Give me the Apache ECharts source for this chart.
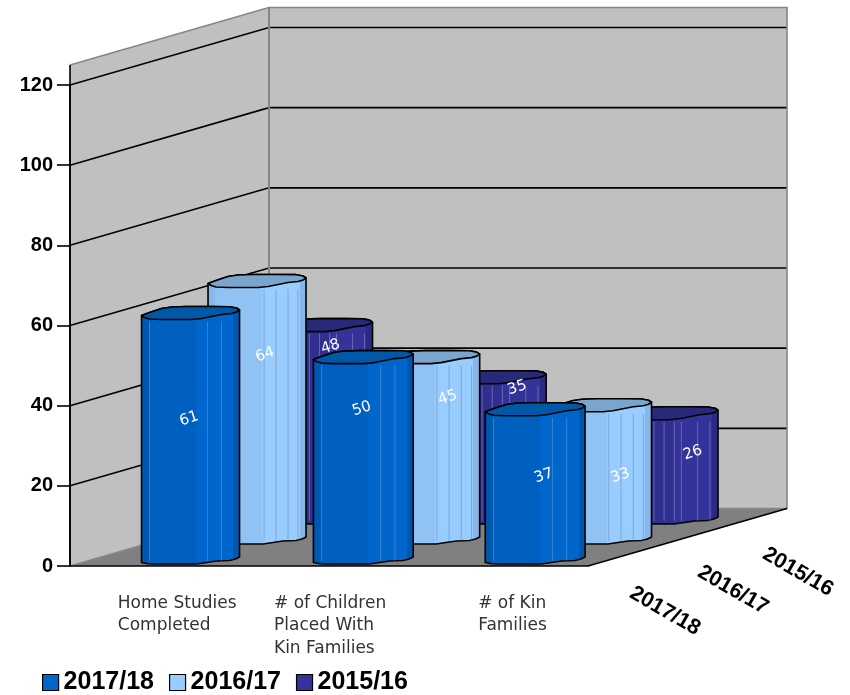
<!DOCTYPE html>
<html>
<head>
<meta charset="utf-8">
<style>html,body{margin:0;padding:0;background:#fff}#c{width:850px;height:695px}</style>
<script src="https://cdn.jsdelivr.net/npm/echarts@6/dist/echarts.min.js"></script>
</head>
<body>
<div id="c"></div>
<script>
var categories = ['Home Studies\nCompleted', '# of Children\nPlaced With\nKin Families', '# of Kin\nFamilies'];
var seriesNames = ['2017/18', '2016/17', '2015/16'];
var values201718 = [61, 50, 37];
var values201617 = [64, 45, 33];
var values201516 = [48, 35, 26];
var yTicks = { min: 0, max: 120, step: 20 };

// layout constants for the hand-projected 3-D box
var DEPTH = { dx: 199, dy: -57.5 };
var ROW = { dx: 66.5, dy: -20, cx: 34.2, base: -2, catSkew: -0.8 };
var BAR_W = 98;
var BAR_STRETCH = [1, 1.018, 1.018];
var WALL_TOP = 125;
var LABEL_NUDGE = {
  0: [[-1.5, 23], [-0.5, 55], [9.6, 14]],
  1: [[8, 61], [18.8, 56], [19.6, 2]],
  2: [[7, 81], [21.8, 66], [25.6, 19]]
};
var STYLE = [
  { color: '#0066CC', dark: '#0057AE', mid: '#0060C0', top: '#0059A8', line: 'rgba(120,170,230,0.55)', lines: [8, 66, 80] },
  { color: '#99CCFF', dark: '#88B6E6', mid: '#90C2F3', top: '#7AA5CC', line: 'rgba(90,120,160,0.55)', lines: [56, 68, 80, 90] },
  { color: '#333399', dark: '#2A2A85', mid: '#2F2F90', top: '#29297A', line: 'rgba(160,160,220,0.6)', lines: [23, 35, 45, 55, 62, 78, 90] }
];
var FRONT_TOP = [[0, -4], [3, -2], [8, -0.5], [20, 0], [50, 0], [60, -1], [70, -3], [80, -5], [90, -6], [95, -7.5], [98, -9.5]];
var BACK_TOP = [[95, -11.5], [88, -12.8], [70, -13], [45, -13], [30, -12.5], [20, -11], [8, -7]];
var FRONT_BOTTOM = [[0, -1.5], [6, -0.3], [12, 0], [55, 0], [65, -1.5], [75, -3], [88, -3.5], [94, -5], [98, -7]];

function barRenderer(row) {
  var st = STYLE[row];
  return function (params, api) {
    var idx = api.value(0), val = api.value(1);
    var base = api.coord([idx, 0]);
    var top = api.coord([idx, val]);
    var left = base[0] + ROW.cx + idx * ROW.catSkew + row * ROW.dx - BAR_W / 2;
    var by = base[1] + ROW.base + row * ROW.dy;
    var ty = top[1] + ROW.base + row * ROW.dy;
    var k = BAR_STRETCH[idx];
    function at(p, y) { return [left + p[0] * k, y + p[1]]; }
    var body = [at(FRONT_TOP[0], ty)];
    BACK_TOP.slice().reverse().forEach(function (p) { body.push(at(p, ty)); });
    body.push(at(FRONT_TOP[FRONT_TOP.length - 1], ty));
    FRONT_BOTTOM.slice().reverse().forEach(function (p) { body.push(at(p, by)); });
    var topFace = FRONT_TOP.map(function (p) { return at(p, ty); })
      .concat(BACK_TOP.map(function (p) { return at(p, ty); }));
    var grad = new echarts.graphic.LinearGradient(0, 0, 1, 0, [
      { offset: 0, color: st.dark }, { offset: 0.08, color: st.dark },
      { offset: 0.08, color: st.mid }, { offset: 0.55, color: st.mid },
      { offset: 0.55, color: st.color }, { offset: 0.93, color: st.color },
      { offset: 0.93, color: st.dark }, { offset: 1, color: st.dark }
    ]);
    var kids = [{
      type: 'polygon', shape: { points: body },
      style: { fill: grad, stroke: '#000', lineWidth: 1.6, lineJoin: 'round' }
    }];
    st.lines.forEach(function (x) {
      kids.push({
        type: 'line',
        shape: { x1: left + x * k, y1: ty + 2, x2: left + x * k, y2: by - 3 },
        style: { stroke: st.line, lineWidth: 0.8 }
      });
    });
    kids.push({
      type: 'polygon', shape: { points: topFace },
      style: { fill: st.top, stroke: '#000', lineWidth: 1.6, lineJoin: 'round' }
    });
    var n = LABEL_NUDGE[row][idx];
    kids.push({
      type: 'text', x: left + BAR_W / 2 + n[0], y: (by + ty) / 2 - n[1],
      rotation: 18 * Math.PI / 180,
      style: {
        text: String(val), fill: '#fff', font: '15px "DejaVu Sans"',
        align: 'center', verticalAlign: 'middle'
      },
      z2: 10
    });
    return { type: 'group', children: kids };
  };
}

function wallRenderer(params, api) {
  var cs = params.coordSys;
  var L = cs.x, R = cs.x + cs.width;
  var y0 = api.coord([0, 0])[1], yT = api.coord([0, WALL_TOP])[1];
  var d = DEPTH;
  var gray = '#868686';
  var kids = [
    { type: 'polygon', shape: { points: [[L, y0], [L + d.dx, y0 + d.dy], [L + d.dx, yT + d.dy], [L, yT]] }, style: { fill: '#C0C0C0' } },
    { type: 'polygon', shape: { points: [[L + d.dx, y0 + d.dy], [R + d.dx, y0 + d.dy], [R + d.dx, yT + d.dy], [L + d.dx, yT + d.dy]] }, style: { fill: '#C0C0C0' } },
    { type: 'polygon', shape: { points: [[L, y0], [R, y0], [R + d.dx, y0 + d.dy], [L + d.dx, y0 + d.dy]] }, style: { fill: '#808080' } }
  ];
  for (var v = yTicks.min + yTicks.step; v <= yTicks.max; v += yTicks.step) {
    var y = api.coord([0, v])[1];
    kids.push({ type: 'polyline', shape: { points: [[L, y], [L + d.dx, y + d.dy], [R + d.dx, y + d.dy]] }, style: { stroke: '#000', lineWidth: 1.6, fill: null } });
  }
  kids.push({ type: 'line', shape: { x1: L + d.dx, y1: y0 + d.dy, x2: L + d.dx, y2: yT + d.dy }, style: { stroke: gray, lineWidth: 2 } });
  kids.push({ type: 'polyline', shape: { points: [[L, yT], [L + d.dx, yT + d.dy], [R + d.dx, yT + d.dy], [R + d.dx, y0 + d.dy], [L + d.dx, y0 + d.dy], [L, y0]] }, style: { stroke: gray, lineWidth: 1.6, fill: null } });
  kids.push({ type: 'line', shape: { x1: L, y1: y0, x2: L, y2: yT }, style: { stroke: '#000', lineWidth: 1.6 } });
  kids.push({ type: 'line', shape: { x1: R, y1: y0, x2: R + d.dx, y2: y0 + d.dy }, style: { stroke: '#000', lineWidth: 1.6 } });
  seriesNames.forEach(function (name, i) {
    var off = [[77, 45], [145, 24], [210, 6]][i];
    kids.push({
      type: 'text', x: R + off[0], y: y0 + off[1], rotation: -30 * Math.PI / 180,
      style: { text: name, fill: '#000', font: 'bold 21.5px "Liberation Sans"', align: 'center', verticalAlign: 'middle' }
    });
  });
  return { type: 'group', children: kids };
}

function toData(arr) { return arr.map(function (v, i) { return [i, v]; }); }
var catPad = [63, 30, 93];
function tokenStyle(p) {
  return { width: 140, align: 'left', padding: [0, 0, 0, p], lineHeight: 22.5, fontFamily: 'DejaVu Sans', fontSize: 17, color: '#333' };
}

var chart = echarts.init(document.getElementById('c'), null, { renderer: 'canvas' });
chart.setOption({
  animation: false,
  backgroundColor: '#fff',
  grid: { left: 70, top: 85, width: 518, height: 481, containLabel: false },
  legend: {
    left: 37, top: 665, itemWidth: 16, itemHeight: 16, itemGap: 15,
    icon: 'rect', selectedMode: false,
    data: seriesNames,
    itemStyle: { borderColor: '#000', borderWidth: 1.2 },
    textStyle: { fontFamily: 'Liberation Sans', fontWeight: 'bold', fontSize: 25, color: '#000' }
  },
  xAxis: {
    type: 'category', data: categories, z: 3,
    axisLine: { lineStyle: { color: '#000', width: 1.6 } },
    axisTick: { length: 13, lineStyle: { color: '#000', width: 1.6 } },
    axisLabel: {
      interval: 0, margin: 26, hideOverlap: false,
      formatter: function (v, i) {
        return v.split('\n').map(function (l) { return '{c' + i + '|' + l + '}'; }).join('\n');
      },
      rich: { c0: tokenStyle(catPad[0]), c1: tokenStyle(catPad[1]), c2: tokenStyle(catPad[2]) }
    }
  },
  yAxis: {
    type: 'value', min: yTicks.min, max: yTicks.max, interval: yTicks.step, z: 3,
    splitLine: { show: false },
    axisLine: { show: true, lineStyle: { color: '#000', width: 1.6 } },
    axisTick: { show: true, length: 13, lineStyle: { color: '#000', width: 1.6 } },
    axisLabel: { margin: 17, fontFamily: 'Liberation Sans', fontWeight: 'bold', fontSize: 20, color: '#000' }
  },
  series: [
    { name: 'walls', type: 'custom', z: 1, silent: true, renderItem: wallRenderer, data: [[0, 0]], encode: { x: 0, y: 1 } },
    { name: seriesNames[2], type: 'custom', z: 2, renderItem: barRenderer(2), data: toData(values201516), encode: { x: 0, y: 1 }, itemStyle: { color: STYLE[2].color } },
    { name: seriesNames[1], type: 'custom', z: 2, renderItem: barRenderer(1), data: toData(values201617), encode: { x: 0, y: 1 }, itemStyle: { color: STYLE[1].color } },
    { name: seriesNames[0], type: 'custom', z: 2, renderItem: barRenderer(0), data: toData(values201718), encode: { x: 0, y: 1 }, itemStyle: { color: STYLE[0].color } }
  ]
});
</script>
</body>
</html>
